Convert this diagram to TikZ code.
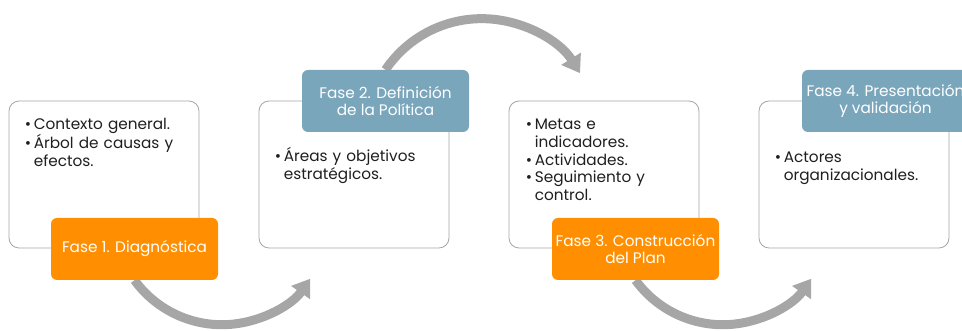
\documentclass[tikz,border=0pt]{standalone}
\usepackage{fontspec}
\setmainfont{Poppins}
\usetikzlibrary{arrows.meta,backgrounds}
\definecolor{faseorange}{HTML}{FF8F00}
\definecolor{faseblue}{HTML}{7AA6BC}
\definecolor{flowgray}{HTML}{A6A6A6}
\definecolor{ink}{HTML}{1F1F1F}
% bullet line and continued line
\newcommand{\itm}[1]{\par\noindent\makebox[9pt][l]{\textbullet}#1}
\newcommand{\sigue}[1]{\par\noindent\hspace*{9pt}#1}
\tikzset{
    panel/.style={draw=flowgray,line width=0.8pt,rounded corners=10pt,minimum width=190pt,minimum height=147pt,fill=white},
    fase/.style={rounded corners=6pt,minimum width=167pt,minimum height=62pt,text=white,align=center,inner sep=0pt,font=\fontsize{15.3}{17}\selectfont},
    items/.style={anchor=north west,inner sep=0pt,text width=180pt,align=left,text=ink,font=\fontsize{15.3}{17.8}\selectfont},
    flow/.style={draw=flowgray,line width=9pt,-{Triangle[width=22pt,length=17pt]}}
}
\begin{document}
\begin{tikzpicture}[x=1pt,y=1pt]
        \useasboundingbox (0,0) rectangle (962,331);
        \foreach \i/\x in {1/104,2/354,3/604,4/854}
        {
            \node[panel] (w\i) at (\x,156.5) {};
        }
        \node[fase,fill=faseorange] (f1) at (134.5,82) {Fase 1. Diagnóstica};
        \node[fase,fill=faseblue] (f2) at (385.5,230) {Fase 2. Definición\\de la Política};
        \node[fase,fill=faseorange] (f3) at (635.5,82) {Fase 3. Construcción\\del Plan};
        \node[fase,fill=faseblue] (f4) at (885.5,230) {Fase 4. Presentación\\y validación};
        \node[items] (t1) at ([shift={(16,-11)}]w1.north west) {\itm{Contexto general.}\itm{Árbol de causas y}\sigue{efectos.}};
        \node[items] (t2) at ([shift={(16,-43)}]w2.north west) {\itm{Áreas y objetivos}\sigue{estratégicos.}};
        \node[items] (t3) at ([shift={(17,-11)}]w3.north west) {\itm{Metas e}\sigue{indicadores.}\itm{Actividades.}\itm{Seguimiento y}\sigue{control.}};
        \node[items] (t4) at ([shift={(16,-44)}]w4.north west) {\itm{Actores}\sigue{organizacionales.}};
        \begin{scope}[on background layer]
            \draw[flow] (f1.south) arc[start angle=216,end angle=325,radius=108pt];
            \draw[flow] (f2.north) arc[start angle=146,end angle=32,radius=116pt];
            \draw[flow] (f3.south) arc[start angle=216,end angle=325,radius=108pt];
        \end{scope}
    \end{tikzpicture}
\end{document}
